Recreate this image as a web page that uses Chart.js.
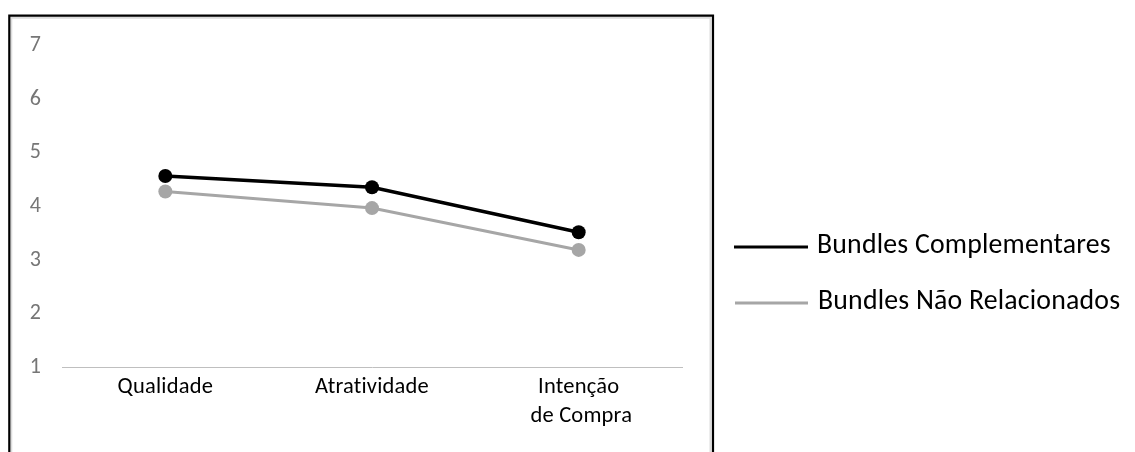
<!DOCTYPE html>
<html>
<head>
<meta charset="utf-8">
<title>Bundles</title>
<script src="https://cdn.jsdelivr.net/npm/chart.js@4.4.1/dist/chart.umd.min.js"></script>
<style>
  html, body { margin: 0; padding: 0; background: #ffffff; }
  #wrap { width: 1135px; height: 452px; position: relative; }
</style>
</head>
<body>
<div id="wrap"><canvas id="chart"></canvas></div>
<script>
// Categories on the x axis
const categories = ['Qualidade', 'Atratividade', ['Intenção', ' de Compra']];
// Mean scores per bundle type
const complementares = [4.57, 4.36, 3.52];
const naoRelacionados = [4.28, 3.97, 3.19];
const seriesNames = ['Bundles Complementares', 'Bundles Não Relacionados'];
const seriesColors = ['#000000', '#A6A6A6'];
// Y axis tick values
const yTicks = [1, 2, 3, 4, 5, 6, 7];

const FONT = 'Carlito, Lato, sans-serif';

// Outer frame around the plot region (open at the bottom edge of the page);
// also turns off the "ti" ligature of the font via a tiny letter spacing
const framePlugin = {
  id: 'frame',
  beforeDraw(chart) {
    const ctx = chart.ctx;
    ctx.letterSpacing = '0.2px';
    ctx.save();
    // soft inner shadow line
    ctx.strokeStyle = '#dcdcdc';
    ctx.lineWidth = 2;
    ctx.beginPath();
    ctx.moveTo(11.3, 470);
    ctx.lineTo(11.3, 17.7);
    ctx.lineTo(710.5, 17.7);
    ctx.lineTo(710.5, 470);
    ctx.stroke();
    // black border
    ctx.strokeStyle = '#000000';
    ctx.lineWidth = 2.2;
    ctx.beginPath();
    ctx.moveTo(9.3, 470);
    ctx.lineTo(9.3, 15.7);
    ctx.lineTo(713, 15.7);
    ctx.lineTo(713, 470);
    ctx.stroke();
    ctx.restore();
  }
};

// Legend to the right of the frame: short line sample followed by the series name
const sideLegendPlugin = {
  id: 'sideLegend',
  afterDraw(chart) {
    const ctx = chart.ctx;
    const rows = [
      { lineY: 247, textY: 246, x0: 734, x1: 808, tx: 817, lw: 3.2 },
      { lineY: 303, textY: 302, x0: 735, x1: 808, tx: 818, lw: 3.2 }
    ];
    ctx.save();
    chart.data.datasets.forEach((ds, i) => {
      const r = rows[i];
      ctx.strokeStyle = ds.borderColor;
      ctx.lineWidth = r.lw;
      ctx.beginPath();
      ctx.moveTo(r.x0, r.lineY);
      ctx.lineTo(r.x1, r.lineY);
      ctx.stroke();
      ctx.fillStyle = '#000000';
      ctx.font = '27.8px ' + FONT;
      ctx.textAlign = 'left';
      ctx.textBaseline = 'middle';
      ctx.fillText(ds.label, r.tx, r.textY);
    });
    ctx.restore();
  }
};

new Chart(document.getElementById('chart'), {
  type: 'line',
  data: {
    labels: categories,
    datasets: [
      {
        label: seriesNames[0],
        data: complementares,
        borderColor: seriesColors[0],
        backgroundColor: seriesColors[0],
        pointBackgroundColor: seriesColors[0],
        pointBorderColor: seriesColors[0],
        borderWidth: 3.5,
        pointRadius: 7,
        pointBorderWidth: 0,
        tension: 0
      },
      {
        label: seriesNames[1],
        data: naoRelacionados,
        borderColor: seriesColors[1],
        backgroundColor: seriesColors[1],
        pointBackgroundColor: seriesColors[1],
        pointBorderColor: seriesColors[1],
        borderWidth: 3,
        pointRadius: 7,
        pointBorderWidth: 0,
        tension: 0
      }
    ]
  },
  options: {
    responsive: true,
    maintainAspectRatio: false,
    devicePixelRatio: 1,
    animation: false,
    layout: { padding: { top: 45.7, right: 453, left: 0, bottom: 0 } },
    plugins: {
      legend: { display: false },
      tooltip: { enabled: false }
    },
    scales: {
      x: {
        offset: true,
        grid: { display: false, drawTicks: false },
        border: { display: true, color: '#BFBFBF', width: 1 },
        ticks: {
          color: '#000000',
          font: { family: FONT, size: 22.5, lineHeight: 1.29 },
          padding: 6,
          maxRotation: 0,
          autoSkip: false
        },
        afterFit(scale) { scale.height = 84.7; }
      },
      y: {
        min: 1,
        max: 7,
        grid: { display: false, drawTicks: false },
        border: { display: false },
        ticks: {
          color: '#767676',
          font: { family: FONT, size: 22 },
          padding: 21
        },
        afterBuildTicks(scale) { scale.ticks = yTicks.map(v => ({ value: v })); },
        afterFit(scale) { scale.width = 62; }
      }
    }
  },
  plugins: [framePlugin, sideLegendPlugin]
});
</script>
</body>
</html>
